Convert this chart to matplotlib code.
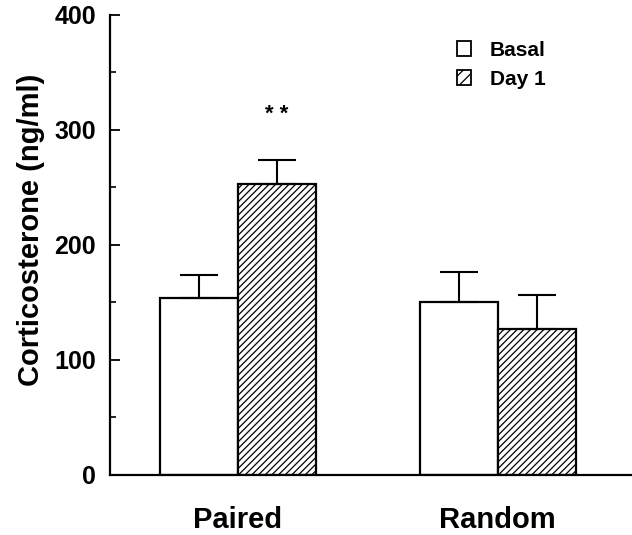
import matplotlib
matplotlib.use("Agg")
import matplotlib.pyplot as plt
import numpy as np
from matplotlib.patches import Patch
from matplotlib.ticker import MultipleLocator

plt.rcParams["font.family"] = ["Liberation Sans", "DejaVu Sans"]
plt.rcParams["font.weight"] = "bold"
plt.rcParams["hatch.linewidth"] = 0.9

# data
groups = ["Paired", "Random"]
basal_mean = [153.5, 150]
basal_err = [20, 26.5]
day1_mean = [253, 127]
day1_err = [20.5, 29.5]
series_labels = ["Basal", "Day 1"]
y_ticks = [0, 100, 200, 300, 400]

fig = plt.figure(figsize=(6.32, 5.35), dpi=100)
ax = fig.add_axes([0.174, 0.113, 0.826, 0.859])

x = np.arange(len(groups))
w = 0.3
err_kw = {"elinewidth": 1.5, "capthick": 1.5, "capsize": 13.5, "ecolor": "black"}

ax.bar(x - w / 2, basal_mean, w, yerr=[np.zeros(2), basal_err],
       color="white", edgecolor="black", linewidth=1.6, error_kw=err_kw, zorder=2)
ax.bar(x + w / 2, day1_mean, w, yerr=[np.zeros(2), day1_err],
       color="white", edgecolor="black", linewidth=1.6, hatch="/////",
       error_kw=err_kw, zorder=2)

# significance marker
ax.text(x[0] + w / 2, 313, "* *", ha="center", va="center", fontsize=16)

ax.set_xlim(-0.491, 1.517)
ax.set_ylim(0, 400)
ax.set_yticks(y_ticks)
ax.yaxis.set_minor_locator(MultipleLocator(50))
ax.set_xticks(x)
ax.set_xticklabels(groups, fontsize=21, fontweight="bold")
ax.tick_params(axis="x", length=0, pad=23)
ax.tick_params(axis="y", which="major", direction="in", length=7, width=1.3,
               labelsize=18, pad=10)
ax.tick_params(axis="y", which="minor", direction="in", length=4, width=1.2)

for s in ["top", "right"]:
    ax.spines[s].set_visible(False)
for s in ["left", "bottom"]:
    ax.spines[s].set_linewidth(1.6)

ax.set_ylabel("Corticosterone (ng/ml)", fontsize=21, fontweight="bold")
ax.yaxis.set_label_coords(-0.125, 0.532)

handles = [Patch(facecolor="white", edgecolor="black", linewidth=1.3),
           Patch(facecolor="white", edgecolor="black", linewidth=1.3, hatch="///")]
ax.legend(handles, series_labels, loc="upper left", bbox_to_anchor=(0.628, 0.985),
          frameon=False, handlelength=0.7, handleheight=0.7,
          handletextpad=0.9, labelspacing=0.5, prop={"weight": "bold", "size": 15})

fig.savefig("out.png", dpi=100)
